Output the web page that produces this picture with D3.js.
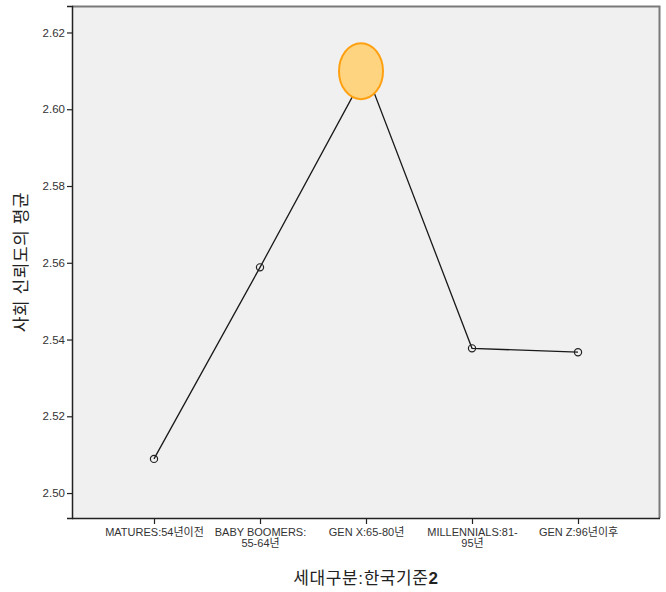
<!DOCTYPE html>
<html><head><meta charset="utf-8">
<script src="https://cdn.jsdelivr.net/npm/d3@7"></script>
<style>body{margin:0;background:#fff}svg{display:block}</style>
</head><body>
<script>
const categories = ["MATURES:54년이전", "BABY BOOMERS:\n55-64년", "GEN X:65-80년", "MILLENNIALS:81-\n95년", "GEN Z:96년이후"];
const values = [2.5089, 2.5588, 2.6098, 2.5377, 2.5367];
const yTicks = [2.50, 2.52, 2.54, 2.56, 2.58, 2.60, 2.62];
const highlightIndex = 2;
const xTitle = "세대구분:한국기준";
const xTitleBold = "2";
const yTitle = "사회 신뢰도의 평균";

const W = 666, H = 592;
const m = {left: 72, top: 6, right: 660, bottom: 518};
const svg = d3.select("body").append("svg").attr("width", W).attr("height", H);
const font = "'Liberation Sans', Arial, 'Noto Sans CJK KR', sans-serif";

svg.append("rect").attr("x", m.left).attr("y", m.top)
  .attr("width", m.right - m.left).attr("height", m.bottom - m.top)
  .attr("fill", "#f0f0f0");
svg.append("path").attr("d", `M${m.left},${m.top+0.5}H${m.right-0.5}V${m.bottom}`)
  .attr("fill", "none").attr("stroke", "#7a7a7a").attr("stroke-width", 2);

const x = d3.scalePoint().domain(categories).range([154, 578]);
const y = d3.scaleLinear().domain([2.4935, 2.6269]).range([m.bottom, m.top]);

const yAxis = d3.axisLeft(y).tickValues(yTicks).tickFormat(d3.format(".2f")).tickSize(5).tickPadding(2);
const gy = svg.append("g").attr("transform", `translate(${m.left},0)`).call(yAxis);
gy.select(".domain").attr("stroke", "#222").attr("stroke-width", 1.5);
gy.selectAll(".tick line").attr("stroke", "#222").attr("stroke-width", 1.2);
gy.selectAll(".tick text").attr("font-family", font).attr("font-size", 11.5).attr("fill", "#333");

const xAxis = d3.axisBottom(x).tickSize(6).tickPadding(4).tickSizeOuter(0);
const gx = svg.append("g").attr("transform", `translate(0,${m.bottom})`).call(xAxis);
gx.select(".domain").attr("d", `M${m.left},0.5H${m.right}`).attr("stroke", "#222").attr("stroke-width", 1.5);
gx.selectAll(".tick line").attr("stroke", "#222").attr("stroke-width", 1.2);
gx.selectAll(".tick text").attr("font-family", font).attr("font-size", 11).attr("fill", "#333")
  .each(function(d) {
    const t = d3.select(this); t.text(null);
    d.split("\n").forEach((s, i) => {
      t.append("tspan").attr("x", 0).attr("dy", i === 0 ? "0.71em" : "1.05em").text(s);
    });
  });

const line = d3.line().x((d, i) => x(categories[i])).y(d => y(d));
svg.append("path").datum(values).attr("d", line)
  .attr("fill", "none").attr("stroke", "#1a1a1a").attr("stroke-width", 1.3);

svg.selectAll("circle.pt").data(values).enter().append("circle").attr("class", "pt")
  .attr("cx", (d, i) => x(categories[i])).attr("cy", d => y(d)).attr("r", 3.6)
  .attr("fill", "none").attr("stroke", "#222").attr("stroke-width", 1.2);

svg.append("ellipse")
  .attr("cx", x(categories[highlightIndex]) - 5).attr("cy", y(values[highlightIndex]) - 0.5)
  .attr("rx", 22).attr("ry", 28)
  .attr("fill", "#ffd480").attr("stroke", "#ffa010").attr("stroke-width", 2);

const xt = svg.append("text").attr("x", (m.left + m.right) / 2).attr("y", 584)
  .attr("text-anchor", "middle").attr("font-family", font).attr("font-size", 17)
  .attr("letter-spacing", 0.6).attr("fill", "#222");
xt.append("tspan").text(xTitle);
xt.append("tspan").attr("font-weight", "bold").text(xTitleBold);

svg.append("text").attr("transform", `translate(27,${(m.top + m.bottom) / 2}) rotate(-90)`)
  .attr("text-anchor", "middle").attr("font-family", font).attr("font-size", 17)
  .attr("letter-spacing", 0.6).attr("fill", "#222")
  .text(yTitle);
</script>
</body></html>
